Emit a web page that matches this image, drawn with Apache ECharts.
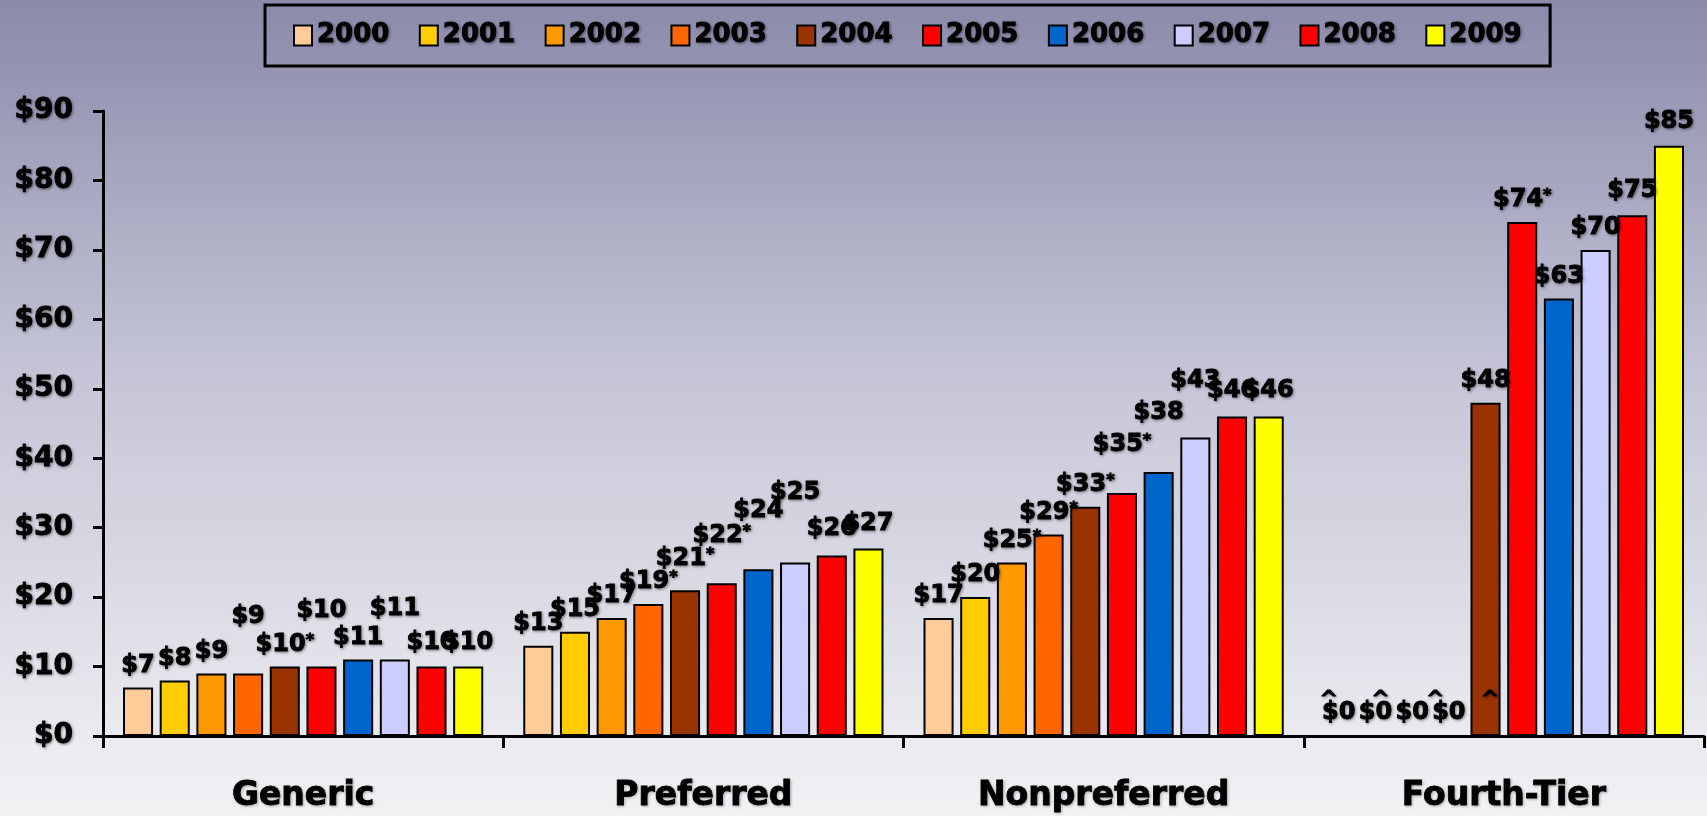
<!DOCTYPE html>
<html>
<head>
<meta charset="utf-8">
<script src="https://cdn.jsdelivr.net/npm/echarts@6/dist/echarts.min.js"></script>
<style>
  html, body { margin: 0; padding: 0; }
  #container {
    width: 1707px; height: 816px;
    background: linear-gradient(to bottom, #8a8aaa 0%, #c4c4d6 45%, #f2f2f5 100%);
  }
</style>
</head>
<body>
<div id="container"></div>
<script>
// copays by tier, one value per year 2000..2009
var years = ['2000', '2001', '2002', '2003', '2004', '2005', '2006', '2007', '2008', '2009'];
var tiers = ['Generic', 'Preferred', 'Nonpreferred', 'Fourth-Tier'];

var generic      = [7, 8, 9, 9, 10, 10, 11, 11, 10, 10];
var preferred    = [13, 15, 17, 19, 21, 22, 24, 25, 26, 27];
var nonpreferred = [17, 20, 25, 29, 33, 35, 38, 43, 46, 46];
var fourthTier   = [0, 0, 0, 0, 48, 74, 63, 70, 75, 85];

// footnote marks shown after / above the value labels
var genericNotes      = ['', '', '', '', '*', '', '', '', '', ''];
var preferredNotes    = ['', '', '', '*', '*', '*', '', '', '', ''];
var nonpreferredNotes = ['', '', '*', '*', '*', '*', '', '', '', ''];
var fourthTierNotes   = ['^', '^', '^', '^', '', '*', '', '', '', ''];

var yTicks = [0, 10, 20, 30, 40, 50, 60, 70, 80, 90];

(function(){
    var dom = document.getElementById("container");
    var myChart = echarts.init(dom, null, {renderer: 'canvas'});

    var colors = ['#FFCC99', '#FFCC00', '#FF9900', '#FF6600', '#993300',
                  '#FF0000', '#0066CC', '#CCCCFF', '#FF0000', '#FFFF00'];

    // the labels in the slide were nudged up by hand in places
    var raise = {
        'Generic':      [0, 0, 0, 35, 0, 34, 0, 29, 2, 2],
        'Preferred':    [0, 0, 0, 0, 9, 25, 37, 48, 5, 3],
        'Nonpreferred': [0, 0, 0, 0, 0, 26, 37, 35, 4, 4],
        'Fourth-Tier':  [0, 0, 0, 0, 0, 0, 0, 0, 2, 2]
    };
    // padding that pushes each "no data" caret sideways
    var caretPad = [[0, 20, 0, 0], [0, 0, 0, 10], [0, 0, 0, 46], [0, 0, 0, 82]];

    var values = [generic, preferred, nonpreferred, fourthTier];
    var notes = [genericNotes, preferredNotes, nonpreferredNotes, fourthTierNotes];

    var labelFont = 'DejaVu Sans';
    var heavy = {
        textBorderColor: '#000', textBorderWidth: 0.9,
        textShadowColor: 'rgba(0,0,0,0.4)', textShadowBlur: 3,
        textShadowOffsetX: 1, textShadowOffsetY: 1
    };

    function labelText(v, note, s) {
        if (note === '*') return '$' + v + '{s|*}';
        if (note === '^') return '{c' + s + '|^}\n$' + v;
        return '$' + v;
    }

    var rich = {
        s: {fontSize: 16, verticalAlign: 'top', color: '#000',
            padding: [0, 0, 8, 0], fontFamily: labelFont}
    };
    for (var k = 0; k < 4; k++) {
        rich['c' + k] = {fontSize: 22, fontFamily: labelFont, color: '#000', lineHeight: 1,
            padding: caretPad[k]};
    }

    var series = [];
    for (var i = 0; i < years.length; i++) {
        var data = [];
        for (var t = 0; t < tiers.length; t++) {
            var v = values[t][i];
            data.push({
                value: v,
                label: {
                    distance: 10 + raise[tiers[t]][i],
                    formatter: labelText(v, notes[t][i], i)
                }
            });
        }
        series.push({
            name: years[i],
            type: 'bar',
            barGap: '22%',
            barCategoryGap: '10%',
            itemStyle: {color: colors[i], borderColor: '#000', borderWidth: 2},
            label: Object.assign({
                show: true,
                position: 'top',
                color: '#000',
                fontSize: 24,
                fontWeight: 'bold',
                fontFamily: labelFont,
                rich: rich
            }, heavy),
            data: data
        });
    }

    var option = {
        animation: false,
        backgroundColor: 'transparent',
        color: colors,
        legend: {
            left: 265,
            top: 5,
            padding: [17, 28, 17, 28],
            itemGap: 29,
            itemWidth: 18,
            itemHeight: 20,
            borderColor: '#000',
            borderWidth: 3,
            icon: 'rect',
            itemStyle: {borderColor: '#000', borderWidth: 2},
            textStyle: Object.assign({
                fontSize: 26, fontWeight: 'bold', color: '#000', fontFamily: labelFont
            }, heavy),
            data: years
        },
        grid: {left: 103, right: 3, top: 111, bottom: 80},
        xAxis: {
            type: 'category',
            data: tiers,
            axisLine: {lineStyle: {color: '#000', width: 3}},
            axisTick: {show: true, length: 12, lineStyle: {color: '#000', width: 3}},
            axisLabel: Object.assign({
                margin: 44,
                fontSize: 33, fontWeight: 'bold', color: '#000', fontFamily: labelFont
            }, heavy, {textShadowColor: 'rgba(0,0,0,0.25)'})
        },
        yAxis: {
            type: 'value',
            min: yTicks[0],
            max: yTicks[yTicks.length - 1],
            interval: yTicks[1] - yTicks[0],
            splitLine: {show: false},
            axisLine: {show: true, lineStyle: {color: '#000', width: 3}},
            axisTick: {show: true, length: 10, lineStyle: {color: '#000', width: 3}},
            axisLabel: Object.assign({
                margin: 30,
                fontSize: 28, fontWeight: 'bold', color: '#000', fontFamily: labelFont,
                formatter: function(v){ return '$' + v; }
            }, heavy)
        },
        series: series
    };

    if (option && typeof option === "object") {
        myChart.setOption(option, true);
    }
}());
</script>
</body>
</html>
